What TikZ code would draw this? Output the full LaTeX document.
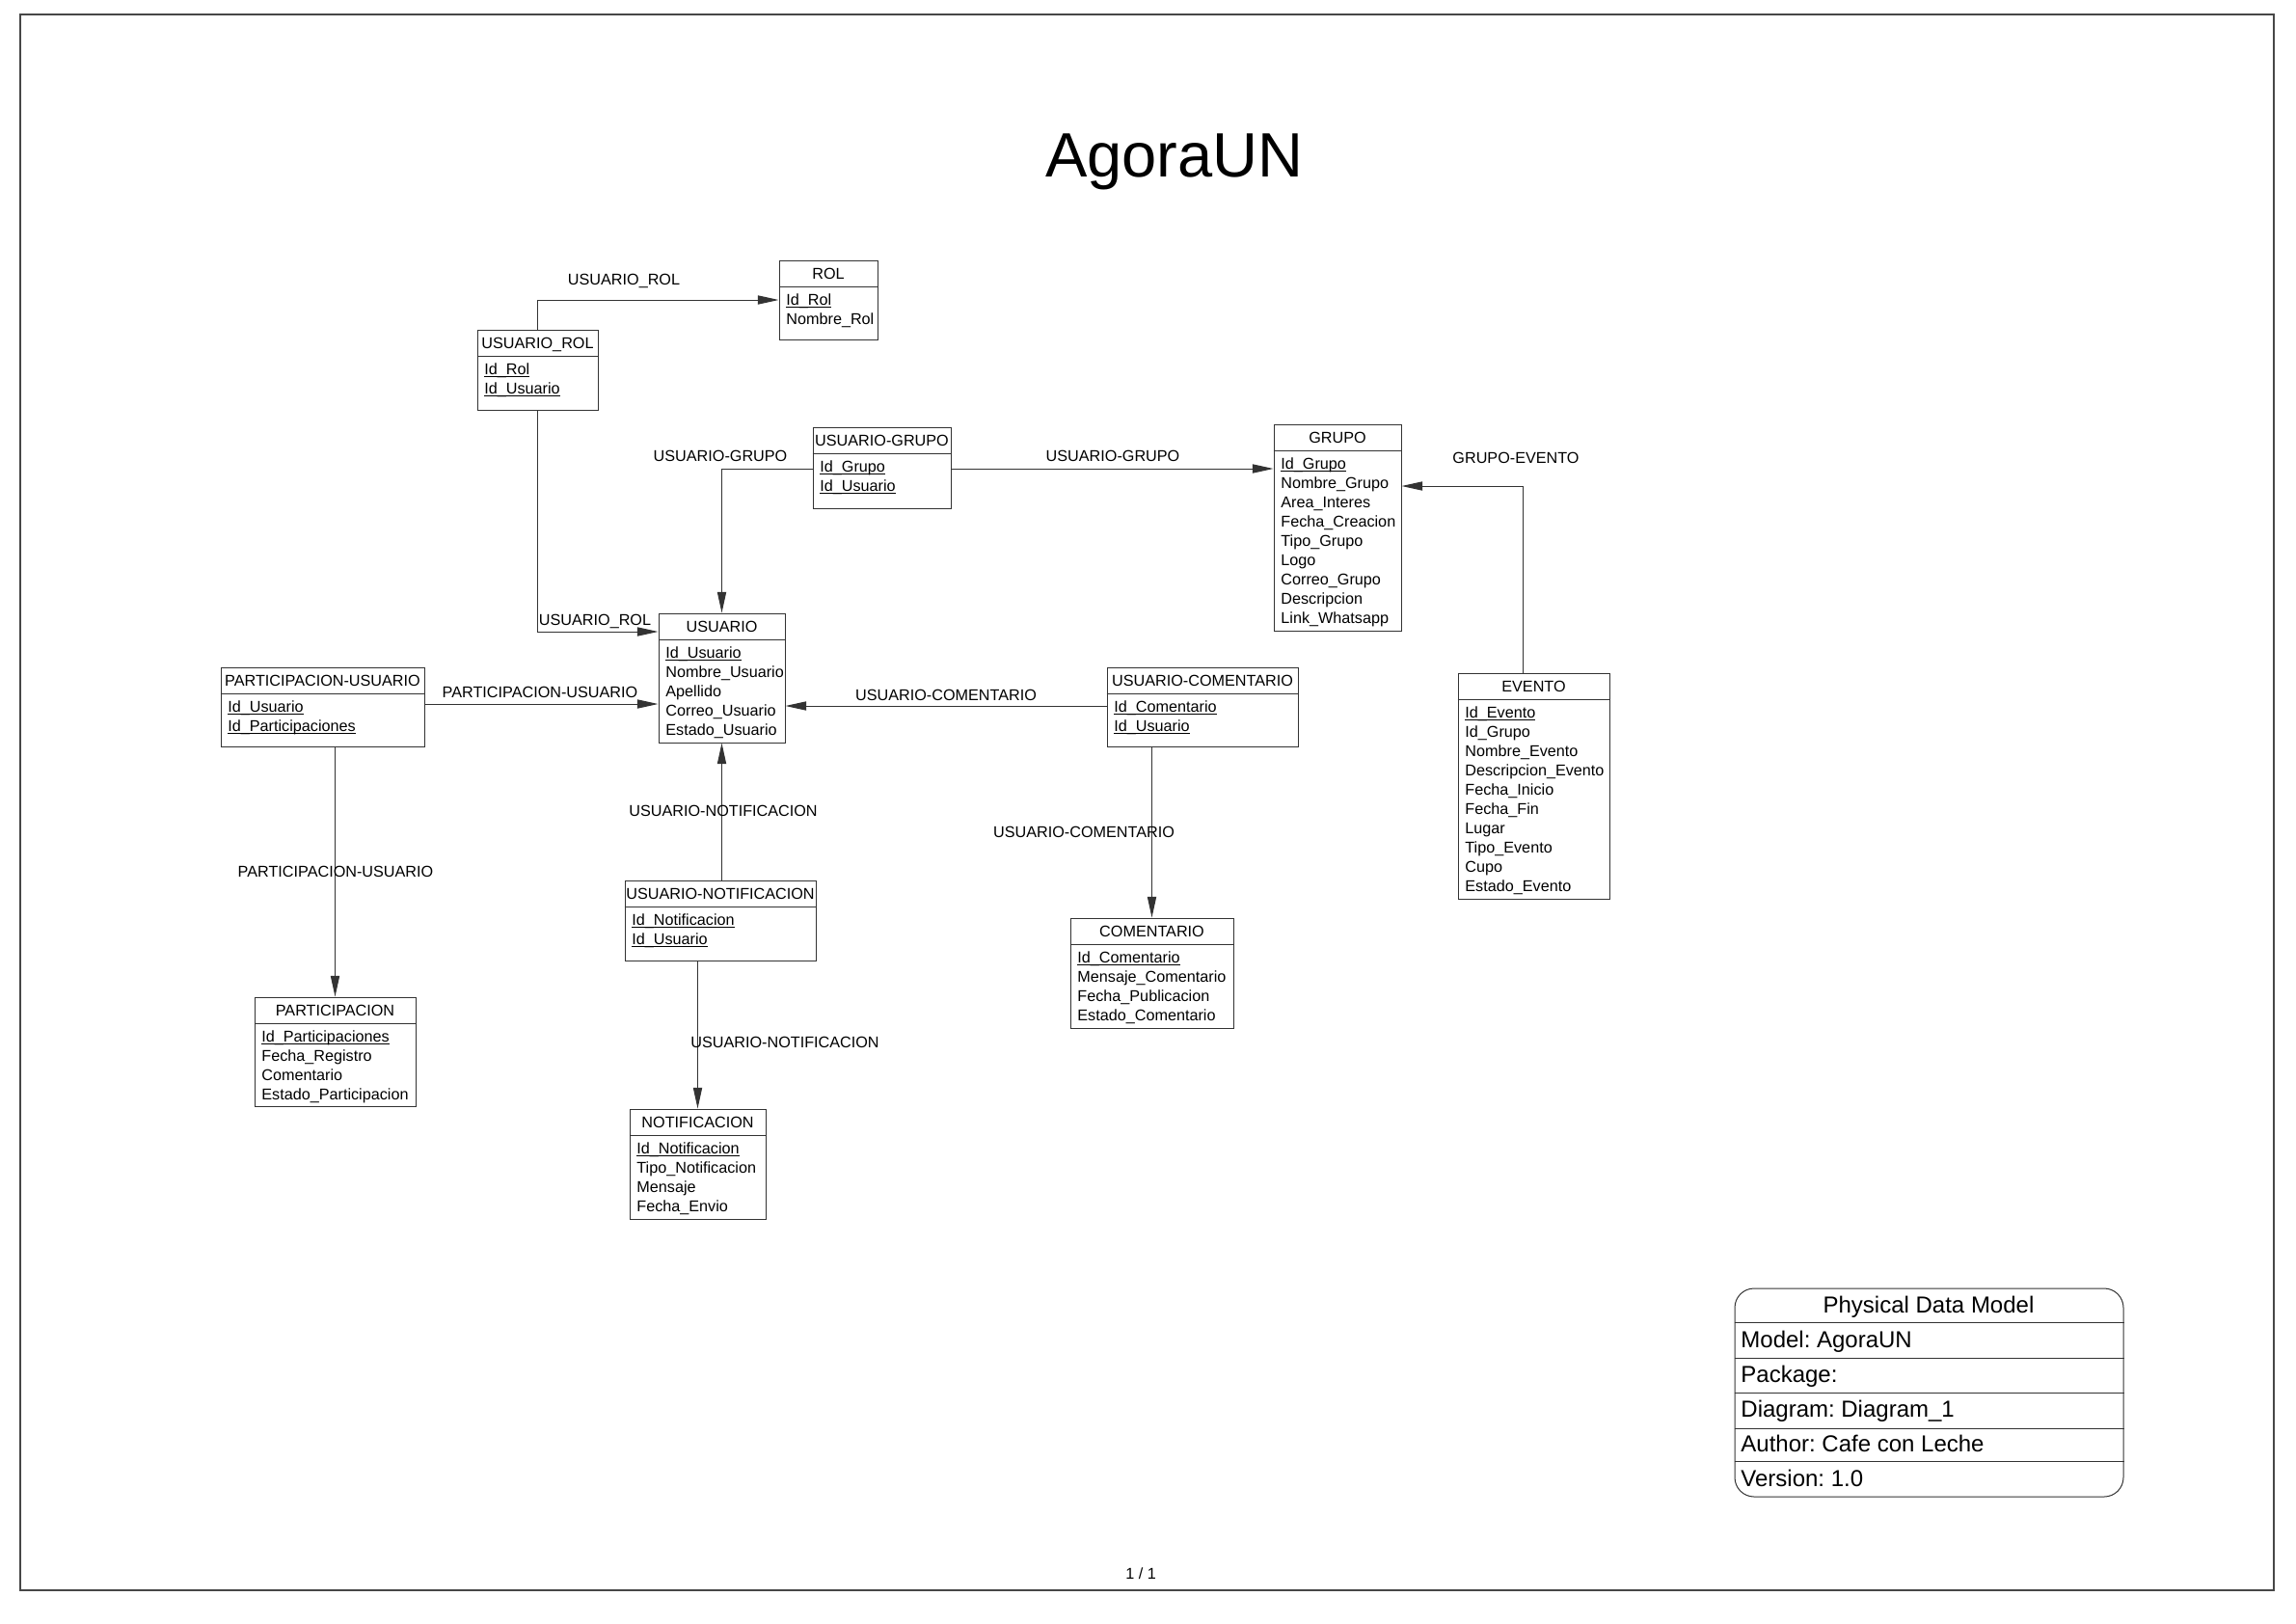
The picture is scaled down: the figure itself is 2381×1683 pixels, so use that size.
\documentclass[tikz,border=0pt]{standalone}
\usepackage{fontspec}
\setmainfont{Liberation Sans}
\usetikzlibrary{arrows.meta, positioning, fit}
\definecolor{linea}{HTML}{333333}
\frenchspacing
\newcommand{\letra}{\fontsize{8.1pt}{10pt}\selectfont}
\newcommand{\letrabloque}{\fontsize{12pt}{14pt}\selectfont}
\newcommand{\pk}[1]{\underline{\smash{#1}}}
\tikzstyle{marco} = [draw=linea!90, line width=0.7pt, inner sep=0pt]
\tikzstyle{tabla} = [draw=linea, line width=0.5pt, inner sep=0pt]
\tikzstyle{titulo} = [font=\letra, anchor=base, inner sep=0pt]
\tikzstyle{campo} = [font=\letra, anchor=base west, inner sep=0pt]
\tikzstyle{etiqueta} = [font=\letra, anchor=base, inner sep=0pt]
\tikzstyle{rel} = [draw=linea, line width=0.5pt, -{Triangle[length=10.8pt,width=4.6pt]}]
\tikzstyle{bloque} = [draw=linea, line width=0.5pt, inner sep=0pt, rounded corners=10pt]
\tikzstyle{bloquetxt} = [font=\letrabloque, anchor=base west, inner sep=0pt]

\begin{document}
\begin{tikzpicture}[x=0.5pt, y=-0.5pt]
\useasboundingbox (0,0) rectangle (2381,1683);

% Hoja
\node[marco, fit={(21,15) (2358,1649)}] (hoja) {};
\node[font=\fontsize{32.5pt}{36pt}\selectfont, anchor=base, inner sep=0pt] (modelo) at (1218,183) {AgoraUN};
\node[etiqueta] (pagina) at (1183,1637) {1 / 1};

% ROL
\node[tabla, fit={(808,270) (910,352)}] (rol) {};
\draw[linea] (rol.west |- 0,297) -- (rol.east |- 0,297);
\node[titulo] (rol-t) at (859,289) {ROL};
\foreach \c [count=\i] in {\pk{Id\_Rol}, Nombre\_Rol}
  \node[campo] (rol-\i) at (815,296+20*\i) {\c};

% USUARIO_ROL
\node[tabla, fit={(495,342) (620,425)}] (usrol) {};
\draw[linea] (usrol.west |- 0,369) -- (usrol.east |- 0,369);
\node[titulo] (usrol-t) at (557.5,361) {USUARIO\_ROL};
\foreach \c [count=\i] in {\pk{Id\_Rol}, \pk{Id\_Usuario}}
  \node[campo] (usrol-\i) at (502,368+20*\i) {\c};

% USUARIO-GRUPO
\node[tabla, fit={(843,443) (986,527)}] (usgr) {};
\draw[linea] (usgr.west |- 0,470) -- (usgr.east |- 0,470);
\node[titulo] (usgr-t) at (914.5,462) {USUARIO-GRUPO};
\foreach \c [count=\i] in {\pk{Id\_Grupo}, \pk{Id\_Usuario}}
  \node[campo] (usgr-\i) at (850,469+20*\i) {\c};

% GRUPO
\node[tabla, fit={(1321,440) (1453,654)}] (grupo) {};
\draw[linea] (grupo.west |- 0,467) -- (grupo.east |- 0,467);
\node[titulo] (grupo-t) at (1387,459) {GRUPO};
\foreach \c [count=\i] in {\pk{Id\_Grupo}, Nombre\_Grupo, Area\_Interes, Fecha\_Creacion, Tipo\_Grupo, Logo, Correo\_Grupo, Descripcion, Link\_Whatsapp}
  \node[campo] (grupo-\i) at (1328,466+20*\i) {\c};

% USUARIO
\node[tabla, fit={(683,636) (814,770)}] (usuario) {};
\draw[linea] (usuario.west |- 0,663) -- (usuario.east |- 0,663);
\node[titulo] (usuario-t) at (748.5,655) {USUARIO};
\begin{scope}
  \clip (683,636) rectangle (814,770);
  \foreach \c [count=\i] in {\pk{Id\_Usuario}, Nombre\_Usuario, Apellido, Correo\_Usuario, Estado\_Usuario}
    \node[campo] (usuario-\i) at (690,662+20*\i) {\c};
\end{scope}

% PARTICIPACION-USUARIO
\node[tabla, fit={(229,692) (440,774)}] (pu) {};
\draw[linea] (pu.west |- 0,719) -- (pu.east |- 0,719);
\node[titulo] (pu-t) at (334.5,711) {PARTICIPACION-USUARIO};
\foreach \c [count=\i] in {\pk{Id\_Usuario}, \pk{Id\_Participaciones}}
  \node[campo] (pu-\i) at (236,718+20*\i) {\c};

% USUARIO-COMENTARIO
\node[tabla, fit={(1148,692) (1346,774)}] (uc) {};
\draw[linea] (uc.west |- 0,719) -- (uc.east |- 0,719);
\node[titulo] (uc-t) at (1247,711) {USUARIO-COMENTARIO};
\foreach \c [count=\i] in {\pk{Id\_Comentario}, \pk{Id\_Usuario}}
  \node[campo] (uc-\i) at (1155,718+20*\i) {\c};

% EVENTO
\node[tabla, fit={(1512,698) (1669,932)}] (evento) {};
\draw[linea] (evento.west |- 0,725) -- (evento.east |- 0,725);
\node[titulo] (evento-t) at (1590.5,717) {EVENTO};
\foreach \c [count=\i] in {\pk{Id\_Evento}, Id\_Grupo, Nombre\_Evento, Descripcion\_Evento, Fecha\_Inicio, Fecha\_Fin, Lugar, Tipo\_Evento, Cupo, Estado\_Evento}
  \node[campo] (evento-\i) at (1519,724+20*\i) {\c};

% USUARIO-NOTIFICACION
\node[tabla, fit={(648,913) (846,996)}] (un) {};
\draw[linea] (un.west |- 0,940) -- (un.east |- 0,940);
\node[titulo] (un-t) at (747,932) {USUARIO-NOTIFICACION};
\foreach \c [count=\i] in {\pk{Id\_Notificacion}, \pk{Id\_Usuario}}
  \node[campo] (un-\i) at (655,939+20*\i) {\c};

% NOTIFICACION
\node[tabla, fit={(653,1150) (794,1264)}] (notif) {};
\draw[linea] (notif.west |- 0,1177) -- (notif.east |- 0,1177);
\node[titulo] (notif-t) at (723.5,1169) {NOTIFICACION};
\foreach \c [count=\i] in {\pk{Id\_Notificacion}, Tipo\_Notificacion, Mensaje, Fecha\_Envio}
  \node[campo] (notif-\i) at (660,1176+20*\i) {\c};

% PARTICIPACION
\node[tabla, fit={(264,1034) (431,1147)}] (particip) {};
\draw[linea] (particip.west |- 0,1061) -- (particip.east |- 0,1061);
\node[titulo] (particip-t) at (347.5,1053) {PARTICIPACION};
\foreach \c [count=\i] in {\pk{Id\_Participaciones}, Fecha\_Registro, Comentario, Estado\_Participacion}
  \node[campo] (particip-\i) at (271,1060+20*\i) {\c};

% COMENTARIO
\node[tabla, fit={(1110,952) (1279,1066)}] (coment) {};
\draw[linea] (coment.west |- 0,979) -- (coment.east |- 0,979);
\node[titulo] (coment-t) at (1194.5,971) {COMENTARIO};
\foreach \c [count=\i] in {\pk{Id\_Comentario}, Mensaje\_Comentario, Fecha\_Publicacion, Estado\_Comentario}
  \node[campo] (coment-\i) at (1117,978+20*\i) {\c};

% Relaciones
\draw[rel] (usrol.north) |- (rol.west);
\draw[rel] (usrol.south) |- (usuario.west |- 0,655);
\draw[rel] (usgr.west |- 0,486) -| (usuario.north);
\draw[rel] (usgr.east |- 0,486) -- (grupo.west |- 0,486);
\draw[rel] (evento.north -| 1579,0) |- (grupo.east |- 0,504);
\draw[rel] (pu.east |- 0,730) -- (usuario.west |- 0,730);
\draw[rel] (pu.south -| particip.north) -- (particip.north);
\draw[rel] (uc.west |- 0,732) -- (usuario.east |- 0,732);
\draw[rel] (uc.south -| coment.north) -- (coment.north);
\draw[rel] (un.north -| usuario.south) -- (usuario.south);
\draw[rel] (un.south -| notif.north) -- (notif.north);

% Etiquetas
\node[etiqueta] (e-usrol1) at (647,295) {USUARIO\_ROL};
\node[etiqueta] (e-usrol2) at (617,648) {USUARIO\_ROL};
\node[etiqueta] (e-usgr1) at (747,478) {USUARIO-GRUPO};
\node[etiqueta] (e-usgr2) at (1154,478) {USUARIO-GRUPO};
\node[etiqueta] (e-grev) at (1572,480) {GRUPO-EVENTO};
\node[etiqueta] (e-pu1) at (560,723) {PARTICIPACION-USUARIO};
\node[etiqueta] (e-pu2) at (348,909) {PARTICIPACION-USUARIO};
\node[etiqueta] (e-uc1) at (981,726) {USUARIO-COMENTARIO};
\node[etiqueta] (e-uc2) at (1124,868) {USUARIO-COMENTARIO};
\node[etiqueta] (e-un1) at (750,846) {USUARIO-NOTIFICACION};
\node[etiqueta] (e-un2) at (814,1086) {USUARIO-NOTIFICACION};

% Cuadro de datos
\node[bloque, fit={(1799,1336) (2202,1552)}] (bloque) {};
\foreach \y in {1371,1408,1444,1481,1515}
  \draw[linea] (bloque.west |- 0,\y) -- (bloque.east |- 0,\y);
\node[bloquetxt, anchor=base] (bloque-t) at (2000,1361) {Physical Data Model};
\foreach \t [count=\i] in {Model: AgoraUN, Package:, Diagram: Diagram\_1, Author: Cafe con Leche, Version: 1.0}
  \node[bloquetxt] (bloque-\i) at (1805,1361+36*\i) {\t};
\end{tikzpicture}
\end{document}
